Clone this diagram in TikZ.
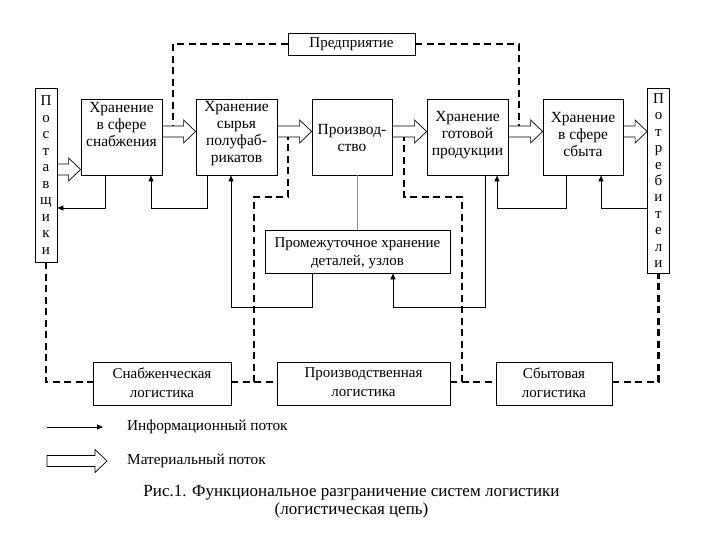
\documentclass[tikz,border=0pt]{standalone}
\usepackage{fontspec}
\setmainfont{Liberation Serif}
\usetikzlibrary{calc,arrows.meta}
\begin{document}
\begin{tikzpicture}[x=1pt,y=-1pt,
  box/.style={draw, line width=0.8pt, inner sep=0pt},
  txt/.style={align=center, inner sep=0pt, font=\fontsize{15.5}{17}\selectfont},
  btxt/.style={align=center, inner sep=0pt, font=\fontsize{15}{19}\selectfont},
  vtxt/.style={draw, line width=0.8pt, inner sep=0pt, align=center, minimum width=22pt},
  info/.style={line width=0.8pt, -{Triangle[length=6pt,width=5pt]}},
  thinl/.style={line width=0.6pt, draw=black!45},
  dsh/.style={line width=2.2pt, dash pattern=on 7pt off 4.5pt},
  mat/.style={line width=0.7pt, fill=white, to path={let \p1=(\tikztostart), \p2=(\tikztotarget) in
     (\x1,\y1+5.5pt) -- (\x2-12pt,\y1+5.5pt) -- (\x2-12pt,\y1+11.5pt) -- (\x2,\y1)
     -- (\x2-12pt,\y1-11.5pt) -- (\x2-12pt,\y1-5.5pt) -- (\x1,\y1-5.5pt) -- cycle}}
]
\useasboundingbox (0,0) rectangle (720,540);
\fill[white] (0,0) rectangle (720,540);

% levels
\coordinate (lvA) at (0,208);
\coordinate (lvB) at (0,307);
\coordinate (lvC) at (0,197);
\coordinate (lvD) at (0,382);
\coordinate (lvE) at (0,44);
\coordinate (lvF) at (0,137);
\coordinate (lvG) at (0,126);

% vertical boxes
\node[vtxt, minimum height=174pt, font=\fontsize{15}{16.5}\selectfont] (sup) at (46,175)
  {П\\о\\с\\т\\а\\в\\щ\\и\\к\\и};
\node[vtxt, minimum height=185pt, font=\fontsize{15}{16.4}\selectfont] (con) at (658.5,180.5)
  {П\\о\\т\\р\\е\\б\\и\\т\\е\\л\\и};

% main boxes
\node[box, minimum width=81pt, minimum height=76pt] (b1) at (121.5,137) {};
\node[box, minimum width=81pt, minimum height=76pt] (b2) at (236.5,137) {};
\node[box, minimum width=80pt, minimum height=76pt] (b3) at (352,137) {};
\node[box, minimum width=81pt, minimum height=76pt] (b4) at (467.5,137) {};
\node[box, minimum width=80pt, minimum height=76pt] (b5) at (583,137) {};
\node[txt] (t1) at (121.5,125) {Хранение\\в сфере\\снабжения};
\node[txt] (t2) at (236.5,133.5) {Хранение\\сырья\\полуфаб-\\рикатов};
\node[txt] (t3) at (352,138.5) {Производ-\\ство};
\node[txt] (t4) at (467.5,135) {Хранение\\готовой\\продукции};
\node[txt] (t5) at (583,135) {Хранение\\в сфере\\сбыта};

% enterprise and intermediate storage
\node[box, minimum width=127pt, minimum height=22pt, font=\fontsize{15}{17}\selectfont] (ent) at (351.5,44) {Предприятие};
\node[box, minimum width=185pt, minimum height=43pt] (pr) at (357.5,251.5) {};
\node[txt, font=\fontsize{15}{18}\selectfont] (prt) at (357.5,253) {Промежуточное хранение\\деталей, узлов};

% logistics boxes
\node[box, minimum width=138pt, minimum height=43pt] (lg1) at (162,383.5) {};
\node[box, minimum width=173pt, minimum height=43pt] (lg2) at (363.5,383.5) {};
\node[box, minimum width=116pt, minimum height=43pt] (lg3) at (554,383.5) {};
\node[btxt] (lt1) at (162,382.5) {Снабженческая\\логистика};
\node[btxt] (lt2) at (363.5,382.5) {Производственная\\логистика};
\node[btxt] (lt3) at (554,382.5) {Сбытовая\\логистика};

% material flows
\draw[mat] ([yshift=5.5pt]sup.east) to ([yshift=5.5pt]b1.west);
\draw[mat] ([yshift=5.5pt]b1.east) to ([yshift=5.5pt]b2.west);
\draw[mat] ([yshift=5.5pt]b2.east) to ([yshift=5.5pt]b3.west);
\draw[mat] ([yshift=5.5pt]b3.east) to ([yshift=5.5pt]b4.west);
\draw[mat] ([yshift=5.5pt]b4.east) to ([yshift=5.5pt]b5.west);
\draw[mat] ([yshift=5.5pt]b5.east) to ([yshift=5.5pt]con.west |- b5.west);

% information flows
\coordinate (o1) at ([xshift=-16.5pt]b1.south);
\coordinate (o2) at ([xshift=-29.5pt]b2.south);
\coordinate (i1) at ([xshift=29.5pt]b1.south);
\coordinate (o3) at ([xshift=-45.5pt]pr.south);
\coordinate (i2) at ([xshift=-5.5pt]b2.south);
\coordinate (o4) at ([xshift=17.5pt]b4.south);
\coordinate (i3) at ([xshift=35.5pt]pr.south);
\coordinate (o5) at ([xshift=-17pt]b5.south);
\coordinate (i4) at ([xshift=29.5pt]b4.south);
\coordinate (i5) at ([xshift=18pt]b5.south);
\draw[info] (o1) |- (sup.east |- lvA);
\draw[info] (o2) -- (o2 |- lvA) -| (i1);
\draw[thinl] (pr.north |- b3.south) -- (pr.north);
\draw[info] (o3) -- (o3 |- lvB) -| (i2);
\draw[info] (o4) -- (o4 |- lvB) -| (i3);
\draw[info] (o5) -- (o5 |- lvA) -| (i4);
\draw[info] (con.west |- lvA) -| (i5);

% dashed management links
\coordinate (dA) at (173,44);
\coordinate (dB) at (519,44);
\draw[dsh] (ent.west) -- (dA) -- (dA |- lvG);
\draw[dsh] (ent.east) -- (dB) -- (dB |- lvG);
\draw[dsh] (sup.south) -- (sup.south |- lvD) -- (lg1.west |- lvD);
\draw[dsh] (lg1.east |- lvD) -- (lg2.west |- lvD);
\draw[dsh] (lg2.east |- lvD) -- (lg3.west |- lvD);
\coordinate (dC) at (254,382);
\coordinate (dD) at (288,197);
\coordinate (dE) at (462,382);
\coordinate (dF) at (404,197);
\draw[dsh] (dC) -- (dC |- lvC) -- (dD) -- (dD |- lvF);
\draw[dsh] (dE) -- (dE |- lvC) -- (dF) -- (dF |- lvF);
\draw[dsh] (lg3.east |- lvD) -- (con.south |- lvD) -- (con.south);

% legend
\coordinate (la) at (47,427);
\coordinate (lb) at (103,427);
\draw[info] (la) -- (lb);
\node[anchor=west, inner sep=0pt, font=\fontsize{15.3}{17}\selectfont] (lt) at (127,427) {Информационный поток};
\coordinate (ma) at (47,461);
\coordinate (mb) at (107,461);
\draw[mat] (ma) to (mb);
\node[anchor=west, inner sep=0pt, font=\fontsize{15.3}{17}\selectfont] (mt) at (127,461) {Материальный поток};

% caption
\node[align=center, inner sep=0pt, font=\fontsize{17}{18}\selectfont] (cap) at (351.5,502)
  {Рис.1. Функциональное разграничение систем логистики\\(логистическая цепь)};
\end{tikzpicture}
\end{document}
